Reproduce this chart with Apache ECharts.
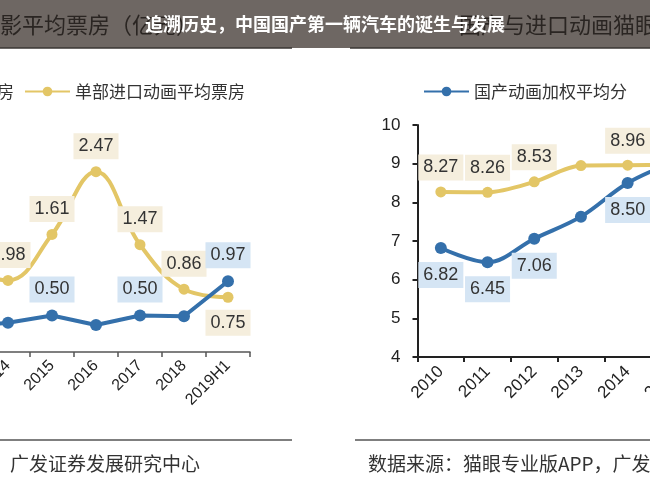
<!DOCTYPE html>
<html>
<head>
<meta charset="utf-8">
<script src="https://cdn.jsdelivr.net/npm/echarts@6/dist/echarts.min.js"></script>
<style>
html,body{margin:0;padding:0;background:#fff;}
#c{width:650px;height:480px;}
</style>
</head>
<body>
<div id="c"></div>
<script>
// ---- data ----
const leftCats = ['2013', '2014', '2015', '2016', '2017', '2018', '2019H1'];
const leftDomestic = [0.35, 0.40, 0.50, 0.37, 0.50, 0.49, 0.97];
const leftImported = [1.15, 0.98, 1.61, 2.47, 1.47, 0.86, 0.75];
const leftDomesticLabelled = ['2015', '2017', '2019H1'];
const leftImportedLabelled = ['2014', '2015', '2016', '2017', '2018', '2019H1'];
const leftImportedBelow = ['2019H1'];

const rightCats = ['2010', '2011', '2012', '2013', '2014', '2015'];
const rightDomestic = [6.82, 6.45, 7.06, 7.63, 8.50, 9.05];
const rightImported = [8.27, 8.26, 8.53, 8.95, 8.96, 8.97];
const rightLabelled = ['2010', '2011', '2012', '2014'];
const rightYTicks = [4, 5, 6, 7, 8, 9, 10];

const leftNames = ['单部国产动画平均票房', '单部进口动画平均票房'];
const rightNames = ['国产动画加权平均分', '进口动画加权平均分'];

const bannerTitle = '追溯历史，中国国产第一辆汽车的诞生与发展';
const bannerLeftText = '图：国产动画电影平均票房（亿元）';
const bannerRightText = '国产与进口动画猫眼评分';
const footerText = '数据来源：猫眼专业版APP，广发证券发展研究中心';

// ---- styles ----
const YELLOW = '#e3c666';
const BLUE = '#3470ab';
const YELLOW_BG = '#f5eedd';
const BLUE_BG = '#d5e5f4';
const CJK = '"Noto Sans CJK SC", sans-serif';
const LAT = '"Liberation Sans", Arial, sans-serif';

function fmt(p) { return Number(p.value).toFixed(2); }

function labelled(cats, vals, showList, bg, pos, dist, belowList) {
  return vals.map((v, i) => {
    const show = showList.indexOf(cats[i]) >= 0;
    const below = belowList && belowList.indexOf(cats[i]) >= 0;
    return {
      value: v,
      label: {
        show: show,
        position: below ? 'bottom' : pos,
        distance: dist,
        formatter: fmt,
        backgroundColor: bg,
        padding: [4, 5, 4, 5],
        fontSize: 18,
        lineHeight: 18,
        color: '#333',
        fontFamily: LAT
      }
    };
  });
}

const chart = echarts.init(document.getElementById('c'), null, {renderer: 'canvas'});

const option = {
  backgroundColor: '#fff',
  animation: false,
  textStyle: {fontFamily: LAT},
  legend: [
    {
      left: -212, top: 78, width: 1200, orient: 'horizontal',
      data: leftNames,
      itemWidth: 45, itemHeight: 12, itemGap: 10,
      textStyle: {fontSize: 17, fontFamily: CJK, color: '#333'}
    },
    {
      left: 418, top: 78, width: 1200, orient: 'horizontal',
      data: rightNames,
      itemWidth: 45, itemHeight: 12, itemGap: 30,
      textStyle: {fontSize: 17, fontFamily: CJK, color: '#333'}
    }
  ],
  grid: [
    {left: -58, right: 400, top: 96.5, bottom: 128, containLabel: false, outerBoundsMode: 'none'},
    {left: 417.5, right: -47.7, top: 125, bottom: 123, containLabel: false, outerBoundsMode: 'none'}
  ],
  xAxis: [
    {
      gridIndex: 0, type: 'category', data: leftCats, boundaryGap: true,
      axisLine: {lineStyle: {color: '#555', width: 1.5}},
      axisTick: {show: true, length: 5, lineStyle: {color: '#555', width: 1.5}},
      axisLabel: {rotate: 45, fontSize: 16, color: '#222', margin: 11, interval: 0}
    },
    {
      gridIndex: 1, type: 'category', data: rightCats, boundaryGap: true,
      axisLine: {lineStyle: {color: '#222', width: 2}},
      axisTick: {show: true, length: 5, lineStyle: {color: '#222', width: 2}},
      axisLabel: {rotate: 45, fontSize: 17, color: '#222', margin: 12, interval: 0}
    }
  ],
  yAxis: [
    {gridIndex: 0, type: 'value', min: 0, max: 3.5, show: false, splitLine: {show: false}},
    {
      gridIndex: 1, type: 'value', min: rightYTicks[0], max: rightYTicks[rightYTicks.length - 1], interval: 1,
      axisLine: {show: true, lineStyle: {color: '#222', width: 2}},
      axisTick: {show: true, length: 5, lineStyle: {color: '#222', width: 2}},
      axisLabel: {fontSize: 17, color: '#222', margin: 17},
      splitLine: {show: false}
    }
  ],
  series: [
    {
      name: leftNames[0], type: 'line', xAxisIndex: 0, yAxisIndex: 0,
      data: labelled(leftCats, leftDomestic, leftDomesticLabelled, BLUE_BG, 'top', 7),
      smooth: false, symbol: 'circle', symbolSize: 12,
      lineStyle: {color: BLUE, width: 4}, itemStyle: {color: BLUE}, z: 3
    },
    {
      name: leftNames[1], type: 'line', xAxisIndex: 0, yAxisIndex: 0,
      data: labelled(leftCats, leftImported, leftImportedLabelled, YELLOW_BG, 'top', 7, leftImportedBelow),
      smooth: 0.4, symbol: 'circle', symbolSize: 11,
      lineStyle: {color: YELLOW, width: 4}, itemStyle: {color: YELLOW}, z: 2
    },
    {
      name: rightNames[0], type: 'line', xAxisIndex: 1, yAxisIndex: 1,
      data: labelled(rightCats, rightDomestic, rightLabelled, BLUE_BG, 'bottom', 8),
      smooth: 0.35, symbol: 'circle', symbolSize: 12,
      lineStyle: {color: BLUE, width: 4}, itemStyle: {color: BLUE}, z: 3
    },
    {
      name: rightNames[1], type: 'line', xAxisIndex: 1, yAxisIndex: 1,
      data: labelled(rightCats, rightImported, rightLabelled, YELLOW_BG, 'top', 6),
      smooth: 0.3, symbol: 'circle', symbolSize: 11,
      lineStyle: {color: YELLOW, width: 4}, itemStyle: {color: YELLOW}, z: 2
    }
  ],
  graphic: [
    {type: 'rect', left: 0, top: 0, shape: {width: 650, height: 48}, style: {fill: '#6e6763'}, z: 10},
    {type: 'text', x: -154, y: 25, style: {text: bannerLeftText, fill: '#2a2522', font: '22px ' + CJK, textVerticalAlign: 'middle'}, z: 11},
    {type: 'text', x: 459, y: 25, style: {text: bannerRightText, fill: '#2a2522', font: '22px ' + CJK, textVerticalAlign: 'middle'}, z: 11},
    {type: 'text', x: 325, y: 24, style: {text: bannerTitle, fill: '#ffffff', font: 'bold 18px ' + CJK, textAlign: 'center', textVerticalAlign: 'middle'}, z: 12},
    {type: 'line', shape: {x1: 0, y1: 48, x2: 292, y2: 48}, style: {stroke: '#3a3633', lineWidth: 1.5}, z: 11},
    {type: 'line', shape: {x1: 350, y1: 48, x2: 650, y2: 48}, style: {stroke: '#3a3633', lineWidth: 1.5}, z: 11},
    {type: 'line', shape: {x1: 0, y1: 440, x2: 292, y2: 440}, style: {stroke: '#555', lineWidth: 1.5}, z: 11},
    {type: 'line', shape: {x1: 355, y1: 440, x2: 650, y2: 440}, style: {stroke: '#555', lineWidth: 1.5}, z: 11},
    {type: 'text', x: 200, y: 464, style: {text: footerText, fill: '#333', font: '19px ' + CJK, textAlign: 'right', textVerticalAlign: 'middle'}, z: 11},
    {type: 'text', x: 368, y: 464, style: {text: footerText, fill: '#333', font: '19px ' + CJK, textAlign: 'left', textVerticalAlign: 'middle'}, z: 11}
  ]
};
chart.setOption(option);
</script>
</body>
</html>
